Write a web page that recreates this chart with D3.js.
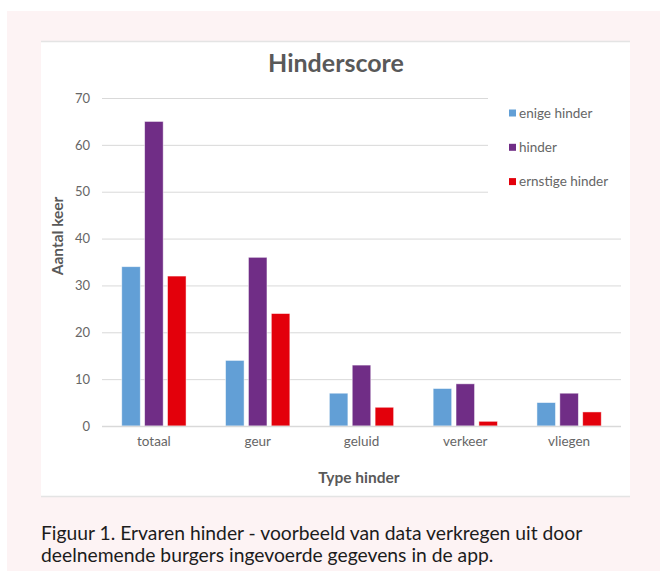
<!DOCTYPE html>
<html>
<head>
<meta charset="utf-8">
<script src="https://cdn.jsdelivr.net/npm/d3@7"></script>
<style>
  html, body { margin: 0; padding: 0; background: #ffffff; }
  svg { display: block; }
</style>
</head>
<body>
<div id="chart"></div>
<script>
let categories  = [ "totaal", "geur", "geluid", "verkeer", "vliegen" ];
let seriesNames = [ "enige hinder", "hinder", "ernstige hinder" ];
let enigeHinder    = [ 34, 14, 7, 8, 5 ];
let hinder         = [ 65, 36, 13, 9, 7 ];
let ernstigeHinder = [ 32, 24, 4, 1, 3 ];
let yTicks = [ 0, 10, 20, 30, 40, 50, 60, 70 ];
let seriesClr = [ "#629fd6", "#702d86", "#e3000b" ];

let chartTitle = "Hinderscore";
let yTitle = "Aantal keer";
let xTitle = "Type hinder";
let captionLines = [
	"Figuur 1. Ervaren hinder - voorbeeld van data verkregen uit door",
	"deelnemende burgers ingevoerde gegevens in de app."
];

let W = 660, H = 571;
let txtClr = "#595959";
let chartFont = "Lato, 'DejaVu Sans', sans-serif";

let seriesVals = [ enigeHinder, hinder, ernstigeHinder ];
let rows = categories.map( (c, i)=>{
	return { cat: c, vals: seriesNames.map( (s, j)=>{ return { name: s, val: seriesVals[j][i], idx: j }; } ) };
});

let svg = d3.select("#chart").append("svg")
	.attr("width", W)
	.attr("height", H);

// pink page panel
svg.append("rect")
	.attr("x", 7).attr("y", 11)
	.attr("width", W - 7).attr("height", H - 11)
	.attr("fill", "#fdf3f4");

// white chart box
svg.append("rect")
	.attr("x", 41).attr("y", 41)
	.attr("width", 589).attr("height", 456)
	.attr("fill", "#ffffff");
svg.append("line").attr("x1", 41).attr("x2", 630).attr("y1", 41.5).attr("y2", 41.5)
	.attr("stroke", "#e4e4e4").attr("stroke-width", 1.5);
svg.append("line").attr("x1", 41).attr("x2", 630).attr("y1", 496.5).attr("y2", 496.5)
	.attr("stroke", "#e4e4e4").attr("stroke-width", 1.5);

let plotL = 102, plotR = 621, plotT = 98, plotB = 426;

let y = d3.scaleLinear().domain([ 0, 70 ]).range([ plotB, plotT ]);
let x0 = d3.scaleBand().domain( categories ).range([ plotL, plotR ]).padding(0);
let x1 = d3.scaleBand().domain( seriesNames ).range([ 19.75, x0.bandwidth() - 19.75 ]).paddingInner(0.19);

// gridlines
let gridG = svg.append("g")
	.attr("transform", "translate(" + plotL + ",0)")
	.call( d3.axisLeft(y).tickValues( yTicks ).tickSize( -(plotR - plotL) ).tickFormat("") );
gridG.select(".domain").remove();
gridG.selectAll(".tick line").attr("stroke", "#d9d9d9").attr("stroke-width", 1);

// y tick labels
let yAx = svg.append("g")
	.attr("transform", "translate(" + (plotL - 12) + ",0)")
	.call( d3.axisLeft(y).tickValues( yTicks ).tickSize(0).tickPadding(0) );
yAx.select(".domain").remove();
yAx.selectAll("text")
	.attr("fill", "#666666")
	.style("font-family", chartFont)
	.style("font-size", "13px");

// bars
let grp = svg.append("g").selectAll("g")
	.data( rows ).enter().append("g")
		.attr("transform", (d)=>{ return "translate(" + x0(d.cat) + ",0)"; });

grp.selectAll("rect")
	.data( (d)=>{ return d.vals; } ).enter().append("rect")
		.attr("x", (d)=>{ return x1(d.name); })
		.attr("y", (d)=>{ return y(d.val); })
		.attr("width", x1.bandwidth())
		.attr("height", (d)=>{ return plotB - y(d.val); })
		.attr("fill", (d)=>{ return seriesClr[d.idx]; })
		.attr("stroke", "#ffffff")
		.attr("stroke-opacity", 0.6)
		.attr("stroke-width", 0.8);

// x axis line + labels
svg.append("line")
	.attr("x1", plotL).attr("x2", plotR)
	.attr("y1", plotB + 0.5).attr("y2", plotB + 0.5)
	.attr("stroke", "#d9d9d9").attr("stroke-width", 1.5);

let xAx = svg.append("g")
	.attr("transform", "translate(0," + (plotB + 10) + ")")
	.call( d3.axisBottom(x0).tickSize(0).tickPadding(0) );
xAx.select(".domain").remove();
xAx.selectAll("text")
	.attr("dy", "0.71em")
	.attr("fill", "#666666")
	.style("font-family", chartFont)
	.style("font-size", "13.5px");

// legend (white backdrop hides gridlines behind it)
svg.append("rect")
	.attr("x", 488).attr("y", 92)
	.attr("width", 140).attr("height", 104)
	.attr("fill", "#ffffff");

let leg = svg.append("g").selectAll("g")
	.data( seriesNames ).enter().append("g")
		.attr("transform", (d, i)=>{ return "translate(509," + (113 + i * 34.3) + ")"; });
leg.append("rect")
	.attr("x", 0).attr("y", -3.5)
	.attr("width", 7).attr("height", 7)
	.attr("fill", (d, i)=>{ return seriesClr[i]; });
leg.append("text")
	.attr("x", 10).attr("y", 0)
	.attr("dy", "0.35em")
	.attr("fill", "#666666")
	.style("font-family", chartFont)
	.style("font-size", "13.5px")
	.text( (d)=>{ return d; } );

// titles
svg.append("text")
	.attr("x", 336).attr("y", 63)
	.attr("dy", "0.35em")
	.attr("text-anchor", "middle")
	.attr("fill", txtClr)
	.style("font-family", chartFont)
	.style("font-weight", "bold")
	.style("font-size", "25px")
	.text( chartTitle );

svg.append("text")
	.attr("transform", "translate(58,236) rotate(-90)")
	.attr("dy", "0.35em")
	.attr("text-anchor", "middle")
	.attr("fill", txtClr)
	.style("font-family", chartFont)
	.style("font-weight", "bold")
	.style("font-size", "15.5px")
	.text( yTitle );

svg.append("text")
	.attr("x", 359).attr("y", 478)
	.attr("dy", "0.35em")
	.attr("text-anchor", "middle")
	.attr("fill", txtClr)
	.style("font-family", chartFont)
	.style("font-weight", "bold")
	.style("font-size", "15.5px")
	.text( xTitle );

// caption
svg.append("g").selectAll("text")
	.data( captionLines ).enter().append("text")
		.attr("x", 41)
		.attr("y", (d, i)=>{ return 533 + i * 22.5; })
		.attr("dy", "0.35em")
		.attr("fill", "#1c1c1c")
		.style("font-family", chartFont)
		.style("font-size", "19.3px")
		.text( (d)=>{ return d; } );
</script>
</body>
</html>
